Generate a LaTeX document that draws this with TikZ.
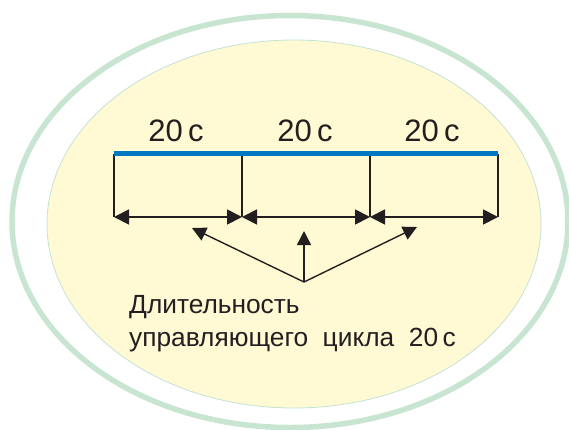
\documentclass[tikz,border=0pt]{standalone}
\usepackage{fontspec}
\setmainfont{Liberation Sans}
\usetikzlibrary{arrows.meta,positioning}
\definecolor{ringgreen}{HTML}{C8E5D2}
\definecolor{paleyellow}{HTML}{FFFAD4}
\definecolor{edgegreen}{HTML}{C3E3D4}
\definecolor{barblue}{HTML}{0077C1}
\definecolor{ink}{HTML}{231F20}

\begin{document}
\begin{tikzpicture}[x=1pt,y=-1pt,
    tick/.style={ink,line width=1.4pt},
    span/.style={ink,line width=1.8pt,{Triangle[length=15pt,width=15pt]}-{Triangle[length=15pt,width=15pt]}},
    pointer/.style={ink,line width=1.4pt,-{Triangle[length=14pt,width=14pt]}},
    seclabel/.style={font=\fontsize{31}{31}\selectfont,text=ink,inner sep=0pt}]
  \useasboundingbox (0,0) rectangle (569,429);
  % background ellipses
  \draw[ringgreen,line width=5.5pt] (290,221.5) ellipse [x radius=278,y radius=206];
  \draw[edgegreen,fill=paleyellow,line width=0.8pt] (294,224) ellipse [x radius=247,y radius=184];
  % time axis
  \foreach \i/\x in {0/114,1/242,2/370,3/498}{
    \coordinate (t\i) at (\x,153.5);
    \coordinate (b\i) at (\x,217);
    \draw[tick] (t\i) -- (b\i);
  }
  \draw[barblue,line width=5pt] (t0) -- (t3);
  \foreach \i/\j/\x in {0/1/176,1/2/305,2/3/432}{
    \draw[span] (b\i) -- (b\j);
    \node[seclabel] (lab\i) at (\x,131) {20\,c};
  }
  % pointers to the spans
  \coordinate (fan) at (304,282);
  \coordinate (hitA) at (192,228);
  \coordinate (hitB) at (304,231);
  \coordinate (hitC) at (417,227);
  \foreach \h in {hitA,hitB,hitC}
    \draw[pointer] (fan) -- (\h);
  \node[font=\fontsize{26.3}{33}\selectfont,text=ink,align=left,anchor=north west,inner sep=0pt]
    (note) at (129,295) {Длительность\\управляющего\ \ цикла\ \ 20\,c};
\end{tikzpicture}
\end{document}
